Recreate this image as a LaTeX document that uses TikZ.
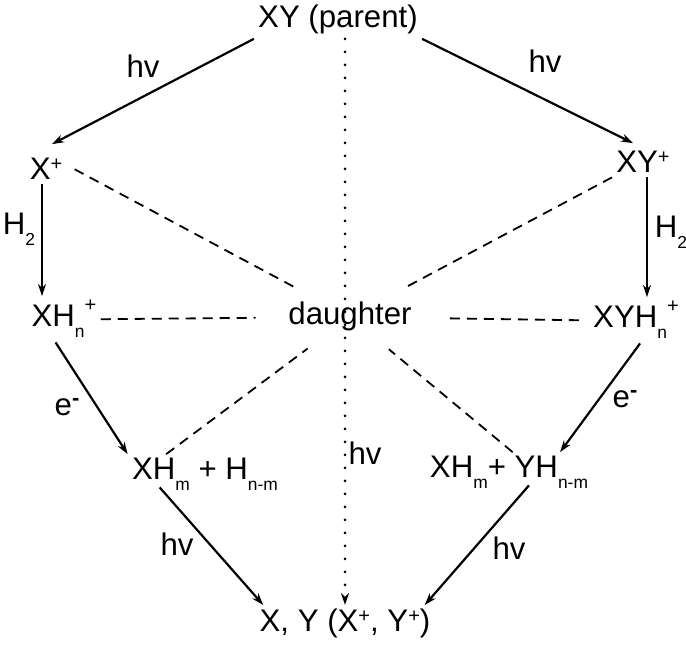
\documentclass[tikz,border=0pt]{standalone}
\usepackage{fontspec}
\setmainfont{Liberation Sans}
\usetikzlibrary{arrows.meta,shapes.geometric}
\newcommand\subx[1]{\raisebox{-5.5pt}{\fontsize{8.7}{9}\selectfont #1}}
\newcommand\supx[2][4.5pt]{\raisebox{#1}{\fontsize{10}{10}\selectfont #2}}
\newcommand\elec{e\raisebox{5pt}{\fontsize{11}{11}\selectfont\bfseries -}}
\begin{document}
\begin{tikzpicture}[x=0.5pt, y=-0.5pt, font=\fontsize{15.6}{18}\selectfont, line join=round, >={Stealth[length=6pt,width=4pt]},
	spec/.style={anchor=base, inner sep=2pt},
	lbl/.style={anchor=base, inner sep=0pt},
	rxn/.style={->, line width=1.1pt},
	link/.style={line width=0.9pt, dash pattern=on 5pt off 3.5pt},
	light/.style={->, line width=1.5pt, line cap=round, dash pattern=on 0pt off 6.5pt}]
	\useasboundingbox (0,0) rectangle (686,646);
	\node[spec] (parent) at (338,28) {XY (parent)};
	\node[spec] (xp) at (46,180) {X\supx{+}};
	\node[spec] (xyp) at (643,173) {XY\supx{+}};
	\node[spec] (xh) at (64,327) {XH\subx{n}\supx[7.5pt]{+}};
	\node[spec, ellipse, minimum width=94pt, minimum height=35pt] (daughter) at (350,325) {daughter};
	\node[spec] (xyh) at (636,328) {XYH\subx{n}\supx[7.5pt]{+}};
	\node[spec] (xhm) at (205,480) {XH\subx{m} + H\subx{n-m}};
	\node[spec] (yh) at (509,478) {XH\subx{m}+ YH\subx{n-m}};
	\node[spec] (xy) at (345,632) {X, Y (X\supx{+}, Y\supx{+})};
	% labels
	\foreach \x/\y/\t in {143/78/hv, 545/73/hv, 19/235/H\subx{2}, 671/238/H\subx{2}, 67/416/\elec, 625/408/\elec, 365/465/hv, 177/556/hv, 509/560/hv}
		\node[lbl] at (\x,\y) {\t};
	% reactions
	\draw[rxn] (parent.south west) -- ([shift={(3pt,5pt)}]xp.north);
	\draw[rxn] (parent.south east) -- ([shift={(-5pt,2pt)}]xyp.north);
	\draw[rxn] ([xshift=-2pt]xp.south) -- ([xshift=-2pt]xp.south |- xh.north);
	\draw[rxn] ([xshift=2pt]xyp.south) -- ([xshift=2pt]xyp.south |- xyh.north);
	\draw[rxn] (xh.-110) -- (xhm.north west);
	\draw[rxn] (xyh.-80) -- (yh.22);
	\draw[rxn] ([shift={(16pt,4pt)}]xhm.south west) -- ([xshift=4pt]xy.north west);
	\draw[rxn] ([shift={(10pt,4pt)}]yh.south) -- ([xshift=-5pt]xy.north east);
	\draw[light] (xy.north |- parent.south) -- (xy.north);
	% daughter links
	\draw[link] ([xshift=4pt]xp.east) -- (daughter);
	\draw[link] (xyp.south west) -- (daughter);
	\draw[link] (xh.east) -- (daughter);
	\draw[link] ([xshift=-5pt]xyh.west) -- (daughter);
	\draw[link] (xhm.152) -- (daughter);
	\draw[link] (yh.80) -- (daughter);
\end{tikzpicture}
\end{document}
